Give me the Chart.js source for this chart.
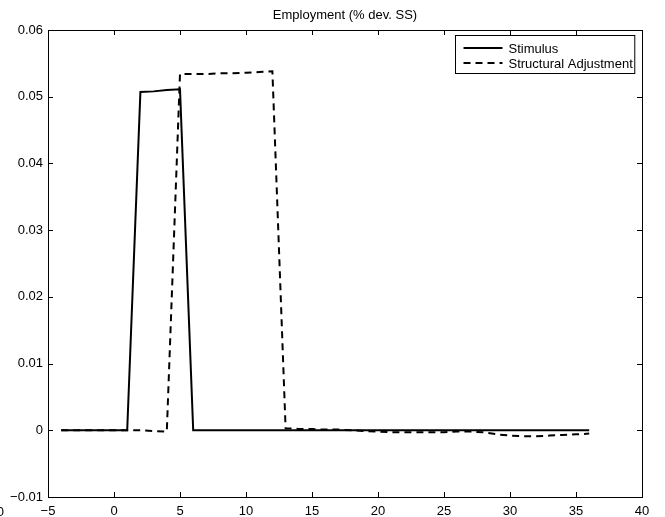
<!DOCTYPE html>
<html>
<head>
<meta charset="utf-8">
<script src="https://cdn.jsdelivr.net/npm/chart.js@4/dist/chart.umd.min.js"></script>
<style>
  html, body { margin: 0; padding: 0; background: #fff; }
  canvas { display: block; }
</style>
</head>
<body>
<canvas id="chart" width="665" height="517"></canvas>
<script>
// periods shown on the x axis
const periods = [-4, -3, -2, -1, 0, 1, 2, 3, 4, 5, 6, 7, 8, 9, 10, 11, 12, 13, 14, 15, 16,
  17, 18, 19, 20, 21, 22, 23, 24, 25, 26, 27, 28, 29, 30, 31, 32, 33, 34, 35, 36];

// employment, % deviation from steady state
const stimulus = [0, 0, 0, 0, 0, 0, 0.0507, 0.0508, 0.0510, 0.0511,
  0, 0, 0, 0, 0, 0, 0, 0, 0, 0, 0, 0, 0, 0, 0, 0, 0, 0, 0, 0, 0, 0, 0, 0, 0, 0, 0, 0, 0, 0, 0];
const structural = [0, 0, 0, 0, 0, 0, 0, -0.0001, -0.0002,
  0.0534, 0.0534, 0.0534, 0.0535, 0.0535, 0.0536, 0.0537, 0.0538,
  0.0003, 0.0002, 0.0002, 0.0001, 0.0001, 0, -0.0001, -0.0002, -0.0003, -0.0003, -0.0003,
  -0.0003, -0.0003, -0.0002, -0.0002, -0.0003, -0.0006, -0.0008, -0.0009, -0.0009, -0.0008,
  -0.0007, -0.0006, -0.0005];

const seriesNames = ['Stimulus', 'Structural Adjustment'];
const chartTitle = 'Employment (% dev. SS)';
const xTicks = [-5, 0, 5, 10, 15, 20, 25, 30, 35, 40];
const yTicks = [-0.01, 0, 0.01, 0.02, 0.03, 0.04, 0.05, 0.06];

const FONT = { family: "'Liberation Sans', Arial, Helvetica, sans-serif", size: 13 };
const minus = s => String(s).replace('-', '\u2212');

/* Matlab-ish frame: box, inward ticks on all four sides, title, legend */
const matlabFrame = {
  id: 'matlabFrame',
  afterDatasetsDraw(chart) {
    const { ctx, chartArea: a, scales: { x, y } } = chart;
    const tl = 5;
    ctx.save();
    ctx.strokeStyle = '#000';
    ctx.lineWidth = 1;
    ctx.beginPath();
    xTicks.forEach(v => {
      const px = Math.round(x.getPixelForValue(v)) + 0.5;
      ctx.moveTo(px, a.bottom); ctx.lineTo(px, a.bottom - tl);
      ctx.moveTo(px, a.top); ctx.lineTo(px, a.top + tl);
    });
    yTicks.forEach(v => {
      const py = Math.round(y.getPixelForValue(v)) + 0.5;
      ctx.moveTo(a.left, py); ctx.lineTo(a.left + tl, py);
      ctx.moveTo(a.right, py); ctx.lineTo(a.right - tl, py);
    });
    ctx.stroke();
    ctx.strokeRect(Math.round(a.left) + 0.5, Math.round(a.top) + 0.5,
      Math.round(a.right - a.left), Math.round(a.bottom - a.top));

    // title
    ctx.fillStyle = '#000';
    ctx.font = FONT.size + 'px ' + FONT.family;
    ctx.textAlign = 'center';
    ctx.textBaseline = 'alphabetic';
    ctx.fillText(chartTitle, (a.left + a.right) / 2, a.top - 11);

    // stray tick label left of the axis (cut by the figure edge)
    ctx.textAlign = 'right';
    ctx.fillText(minus(-10), a.left - 44, x.bottom - 1);

    // legend
    const sets = chart.data.datasets;
    const tw = Math.max(...sets.map(d => ctx.measureText(d.label).width));
    const bw = 8 + 39 + 6 + tw + 2, bh = 38;
    const bx = Math.round(a.right - 8 - bw) + 0.5, by = Math.round(a.top + 5) + 0.5;
    ctx.fillStyle = '#fff';
    ctx.fillRect(bx, by, bw, bh);
    ctx.strokeRect(bx, by, bw, bh);
    sets.forEach((d, i) => {
      const ly = by + 12.5 + i * 15;
      ctx.beginPath();
      ctx.setLineDash(d.borderDash || []);
      ctx.lineWidth = 2;
      ctx.moveTo(bx + 8, ly); ctx.lineTo(bx + 47, ly);
      ctx.stroke();
      ctx.setLineDash([]);
      ctx.fillStyle = '#000';
      ctx.textAlign = 'left';
      ctx.textBaseline = 'middle';
      ctx.fillText(d.label, bx + 53, ly + 1);
    });
    ctx.restore();
  }
};

new Chart(document.getElementById('chart'), {
  type: 'line',
  data: {
    labels: periods,
    datasets: [
      {
        label: seriesNames[0],
        data: periods.map((p, i) => ({ x: p, y: stimulus[i] })),
        borderColor: '#000', borderWidth: 2, pointRadius: 0, tension: 0, order: 1
      },
      {
        label: seriesNames[1],
        data: periods.map((p, i) => ({ x: p, y: structural[i] })),
        borderColor: '#000', borderWidth: 2, borderDash: [7, 5], pointRadius: 0, tension: 0, order: 0
      }
    ]
  },
  options: {
    responsive: false,
    animation: false,
    layout: { padding: { top: 30, right: 23, left: 0, bottom: 0 } },
    plugins: { legend: { display: false }, tooltip: { enabled: false }, title: { display: false } },
    scales: {
      x: {
        type: 'linear', min: -5, max: 40,
        afterFit: s => { s.height = 20; },
        afterBuildTicks: s => { s.ticks = xTicks.map(v => ({ value: v })); },
        grid: { display: false, drawTicks: false },
        border: { display: false },
        ticks: { color: '#000', font: FONT, padding: 7, maxRotation: 0, autoSkip: false,
          callback: v => minus(v) }
      },
      y: {
        min: -0.01, max: 0.06,
        afterFit: s => { s.width = 48; },
        afterBuildTicks: s => { s.ticks = yTicks.map(v => ({ value: v })); },
        grid: { display: false, drawTicks: false },
        border: { display: false },
        ticks: { color: '#000', font: FONT, padding: 5, autoSkip: false,
          callback: v => v === 0 ? '0' : minus(v.toFixed(2)) }
      }
    }
  },
  plugins: [matlabFrame]
});
</script>
</body>
</html>
